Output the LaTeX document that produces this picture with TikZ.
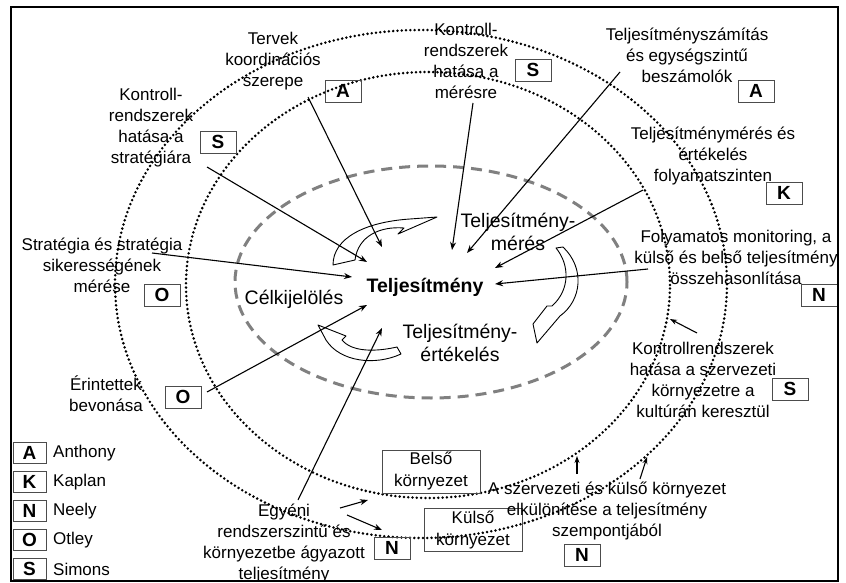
\documentclass[tikz,border=0pt]{standalone}
\usepackage{fontspec}
\setmainfont{Liberation Sans}
\usetikzlibrary{arrows.meta}

\tikzset{
  lbl/.style={align=center, font=\fontsize{17}{21}\selectfont, inner sep=0pt},
  cyc/.style={align=center, font=\fontsize{19.5}{23}\selectfont, inner sep=0pt},
  tag/.style={draw=black!70, line width=0.8pt, minimum width=36pt, minimum height=22pt,
              inner sep=0pt, font=\fontsize{19}{19}\selectfont\bfseries},
  keytag/.style={tag, minimum width=33pt, minimum height=21pt},
  envbox/.style={draw=black!70, line width=0.8pt, minimum width=98pt, minimum height=43pt,
                 inner sep=0pt, align=center, font=\fontsize{17}{22}\selectfont},
  ptr/.style={draw=black, line width=1.1pt, -{Stealth[length=8pt,width=6pt]}},
  ring/.style={line width=2.8pt, line cap=round, dash pattern=on 0pt off 4.3pt},
  core/.style={draw=black!50, line width=3pt, dash pattern=on 11pt off 7pt},
  flow/.style={draw=black, line width=0.9pt, line join=round},
}

\begin{document}
\begin{tikzpicture}[x=1pt,y=-1pt]
\useasboundingbox (0,0) rectangle (846,583);
\fill[white] (0,0) rectangle (846,583);

% rings of influence
\draw[ring] (421,284) ellipse [x radius=306pt, y radius=254pt];
\draw[ring] (428,285) ellipse [x radius=242pt, y radius=213pt];
\draw[core] (431,282) ellipse [x radius=196pt, y radius=116pt];

% cycle labels
\node[cyc, font=\fontsize{19.5}{23}\selectfont\bfseries] (perf) at (425,287) {Teljesítmény};
\node[cyc] (goal) at (294,299) {Célkijelölés};
\node[cyc] (meas) at (518,232) {Teljesítmény-\\mérés};
\node[cyc] (eval) at (460,343) {Teljesítmény-\\értékelés};

% hollow cycle arrows
\draw[flow] (333,265) .. controls (333,238) and (365,222) .. (410,219)
  -- (437,217) -- (398,234) -- (404,228)
  .. controls (380,226) and (358,236) .. (355,260) -- cycle;
\draw[flow] (556,248) -- (563,247) .. controls (585,268) and (582,300) .. (560,316)
  -- (537,343) -- (533,324) -- (547,306) -- (552,306)
  .. controls (570,290) and (570,265) .. (556,248) -- cycle;
\draw[flow] (318,325) -- (346,336) -- (342,340)
  .. controls (352,352) and (375,352) .. (397,347) -- (401,354)
  .. controls (375,366) and (340,362) .. (326,340) -- cycle;

% outer labels and their source tags
\node[lbl] (plans) at (273,61) {Tervek\\koordinációs\\szerepe};
\node[tag] (tA1) at (343,91) {A};
\node[lbl] (kstrat) at (151,128) {Kontroll-\\rendszerek\\hatása a\\stratégiára};
\node[tag] (tS1) at (218,142) {S};
\node[lbl] (kmeas) at (466,61) {Kontroll-\\rendszerek\\hatása a\\mérésre};
\node[tag] (tS2) at (533,70) {S};
\node[lbl] (calc) at (687,55) {Teljesítményszámítás\\és egységszintű\\beszámolók};
\node[tag] (tA2) at (756,91) {A};
\node[lbl] (proc) at (713,156) {Teljesítménymérés és\\értékelés\\folyamatszinten};
\node[tag] (tK) at (784,193) {K};
\node[lbl] (moni) at (736,257) {Folyamatos monitoring, a\\külső és belső teljesítmény\\összehasonlítása};
\node[tag] (tN1) at (819,295) {N};
\node[lbl] (strat) at (102,265) {Stratégia és stratégia\\sikerességének\\mérése};
\node[tag] (tO1) at (162,295) {O};
\node[lbl] (stake) at (106,394) {Érintettek\\bevonása};
\node[tag] (tO2) at (183,397) {O};
\node[lbl] (indiv) at (284,544) {Egyéni\\rendszerszintű és\\környezetbe ágyazott\\teljesítmény};
\node[tag] (tN2) at (392,548) {N};
\node[envbox] (inner) at (431,471.5) {Belső\\környezet};
\node[envbox] (outer) at (473,530) {Külső\\környezet};
\node[lbl] (sep) at (607,511) {A szervezeti és külső környezet\\elkülönítése a teljesítmény\\szempontjából};
\node[tag] (tN3) at (582,555) {N};
\node[lbl] (cult) at (703,380) {Kontrollrendszerek\\hatása a szervezeti\\környezetre a\\kultúrán keresztül};
\node[tag] (tS3) at (790,389) {S};

% connector end points
\coordinate (p1a) at (308,97);  \coordinate (p1b) at (382,247);
\coordinate (p2a) at (207,167); \coordinate (p2b) at (367,262);
\coordinate (p3a) at (473,103); \coordinate (p3b) at (452,250);
\coordinate (p4a) at (620,72);  \coordinate (p4b) at (467,253);
\coordinate (p5a) at (643,190); \coordinate (p5b) at (495,268);
\coordinate (p6a) at (648,269); \coordinate (p6b) at (495,284);
\coordinate (p7a) at (152,253); \coordinate (p7b) at (352,277);
\coordinate (p8a) at (207,392); \coordinate (p8b) at (367,305);
\coordinate (p9a) at (298,500); \coordinate (p9b) at (382,328);
\coordinate (q1a) at (340,508); \coordinate (q1b) at (368,500);
\coordinate (q2a) at (347,515); \coordinate (q2b) at (382,530);
\coordinate (q3a) at (697,333); \coordinate (q3b) at (670,319);
\coordinate (q4a) at (577,474); \coordinate (q4b) at (577,456);
\coordinate (q5a) at (640,479); \coordinate (q5b) at (647,457);

\draw[ptr] (p1a) -- (p1b);
\draw[ptr] (p2a) -- (p2b);
\draw[ptr] (p3a) -- (p3b);
\draw[ptr] (p4a) -- (p4b);
\draw[ptr] (p5a) -- (p5b);
\draw[ptr] (p6a) -- (p6b);
\draw[ptr] (p7a) -- (p7b);
\draw[ptr] (p8a) -- (p8b);
\draw[ptr] (p9a) -- (p9b);
\draw[ptr] (q1a) -- (q1b);
\draw[ptr] (q2a) -- (q2b);
\draw[ptr, -{Stealth[length=7pt,width=5pt]}] (q3a) -- (q3b);
\draw[ptr, -{Stealth[length=7pt,width=5pt]}] (q4a) -- (q4b);
\draw[ptr, -{Stealth[length=7pt,width=5pt]}] (q5a) -- (q5b);

% key of sources
\node[keytag] (kA) at (29.5,453) {A};
\node[keytag] (kK) at (29.5,482) {K};
\node[keytag] (kN) at (29.5,511) {N};
\node[keytag] (kO) at (29.5,540) {O};
\node[keytag] (kS) at (29.5,569) {S};
\node[lbl, anchor=west] (nA) at (53,453) {Anthony};
\node[lbl, anchor=west] (nK) at (53,482) {Kaplan};
\node[lbl, anchor=west] (nN) at (53,511) {Neely};
\node[lbl, anchor=west] (nO) at (53,540) {Otley};
\node[lbl, anchor=west] (nS) at (53,569) {Simons};

% frame
\fill[white] (0,582) rectangle (846,583);
\draw[line width=2.6pt] (11,7) rectangle (838,581);
\end{tikzpicture}
\end{document}
